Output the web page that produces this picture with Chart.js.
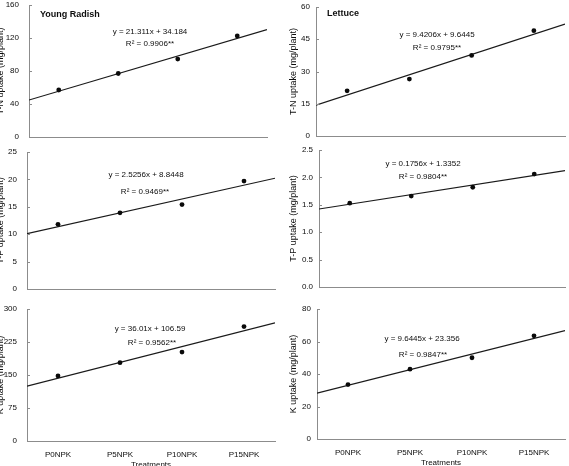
<!DOCTYPE html>
<html>
<head>
<meta charset="utf-8">
<script src="https://cdn.jsdelivr.net/npm/chart.js@4/dist/chart.umd.min.js"></script>
<style>
body { margin: 0; background: #fff; }
#wrap { position: relative; width: 569px; height: 466px; overflow: hidden; background: #fff; }
#wrap canvas { position: absolute; left: 0; top: 0; }
</style>
</head>
<body>
<div id="wrap"></div>
<script>
var treatments = ['P0NPK', 'P5NPK', 'P10NPK', 'P15NPK']

// measured uptake per treatment
var radishN = [57, 77, 94.5, 122.5]
var lettuceN = [21, 26.5, 37.5, 49]
var radishP = [11.8, 13.9, 15.4, 19.7]
var lettuceP = [1.53, 1.66, 1.82, 2.06]
var radishK = [148, 178, 202, 260]
var lettuceK = [33.5, 43, 50, 63.5]

// regression lines printed on the figure
var slopes = [21.311, 9.4206, 2.5256, 0.1756, 36.01, 9.6445]
var intercepts = [34.184, 9.6445, 8.8448, 1.3352, 106.59, 23.356]
var eqTexts = ['y = 21.311x + 34.184', 'y = 9.4206x + 9.6445', 'y = 2.5256x + 8.8448',
               'y = 0.1756x + 1.3352', 'y = 36.01x + 106.59', 'y = 9.6445x + 23.356']
var r2Texts = ['R² = 0.9906**', 'R² = 0.9795**', 'R² = 0.9469**',
               'R² = 0.9804**', 'R² = 0.9562**', 'R² = 0.9847**']

var yMaxes = [160, 60, 25, 2.5, 300, 80]
var ySteps = [40, 15, 5, 0.5, 75, 20]
var yTitles = ['T-N uptake (mg/plant)', 'T-N uptake (mg/plant)', 'T-P uptake (mg/plant)',
               'T-P uptake (mg/plant)', 'K uptake (mg/plant)', 'K uptake (mg/plant)']
var cropNames = ['Young Radish', 'Lettuce']

var FONT = '"Liberation Sans", Arial, sans-serif'
var INK = '#0d0d0d'
var AXIS = '#8c8c8c'
var W = 569, H = 466

// layout of each panel: plot box [left, top, right, bottom], title centre x, text spots
var panels = [
  { values: radishN, box: [29, 5, 267, 137], titleX: 0.5, gap: 10, dec: 0, eq: [150, 32], r2: [150, 44], crop: [40, 15] },
  { values: lettuceN, box: [316, 7, 566, 136], titleX: 294, gap: 6, dec: 0, eq: [437, 35], r2: [437, 48], crop: [327, 14] },
  { values: radishP, box: [27, 152, 275, 289], titleX: 0.5, gap: 10, dec: 0, eq: [146, 175], r2: [145, 192] },
  { values: lettuceP, box: [319, 150, 566, 287], titleX: 294, gap: 6, dec: 1, eq: [423, 164], r2: [423, 177] },
  { values: radishK, box: [27, 309, 275, 441], titleX: 0.5, gap: 10, dec: 0, eq: [150, 329], r2: [152, 343], bottom: true },
  { values: lettuceK, box: [317, 309, 566, 439], titleX: 294, gap: 6, dec: 0, eq: [422, 339], r2: [423, 355], bottom: true }
]

function makeExtras(p, i) {
  return {
    id: 'extras' + i,
    afterDraw: function (chart) {
      var ctx = chart.ctx
      var ys = chart.scales.y
      var left = chart.chartArea.left
      ctx.save()
      ctx.strokeStyle = AXIS
      ctx.lineWidth = 1
      ys.ticks.forEach(function (t) {
        var py = Math.round(ys.getPixelForValue(t.value)) + 0.5
        ctx.beginPath()
        ctx.moveTo(left, py)
        ctx.lineTo(left + 3, py)
        ctx.stroke()
      })
      ctx.fillStyle = INK
      ctx.textBaseline = 'middle'
      ctx.textAlign = 'center'
      ctx.font = '8px ' + FONT
      ctx.fillText(eqTexts[i], p.eq[0], p.eq[1])
      ctx.fillText(r2Texts[i], p.r2[0], p.r2[1])
      if (p.crop) {
        ctx.textAlign = 'left'
        ctx.font = 'bold 9px ' + FONT
        ctx.fillText(cropNames[i], p.crop[0], p.crop[1])
      }
      ctx.restore()
    }
  }
}

function showPanel(p, i) {
  var canvas = document.createElement('canvas')
  canvas.width = W
  canvas.height = H
  document.getElementById('wrap').appendChild(canvas)

  var titleHalf = 9 * 1.2 / 2
  var yWidth = p.box[0] - (p.titleX - titleHalf)
  var xHeight = p.bottom ? 29 : 0
  var a = slopes[i], b = intercepts[i]

  new Chart(canvas, {
    type: 'scatter',
    data: {
      datasets: [{
        type: 'scatter',
        data: p.values.map(function (v, k) { return { x: k + 1, y: v } }),
        pointRadius: 2.4,
        pointBackgroundColor: '#0a0a0a',
        pointBorderWidth: 0
      }, {
        type: 'line',
        data: [{ x: 0.5, y: a * 0.5 + b }, { x: 4.5, y: a * 4.5 + b }],
        borderColor: '#1a1a1a',
        borderWidth: 1.2,
        pointRadius: 0,
        fill: false
      }]
    },
    options: {
      responsive: false,
      animation: false,
      events: [],
      layout: {
        padding: {
          left: p.box[0] - yWidth,
          top: p.box[1],
          right: W - p.box[2],
          bottom: H - p.box[3] - xHeight
        }
      },
      scales: {
        x: {
          type: 'linear',
          min: 0.5,
          max: 4.5,
          afterBuildTicks: function (s) {
            s.ticks = [1, 2, 3, 4].map(function (v) { return { value: v } })
          },
          afterFit: function (s) { s.height = xHeight },
          grid: { drawOnChartArea: false, drawTicks: false },
          border: { color: AXIS, width: 1 },
          ticks: {
            display: !!p.bottom,
            padding: 9,
            autoSkip: false,
            maxRotation: 0,
            color: INK,
            font: { family: FONT, size: 8 },
            callback: function (v) { return treatments[v - 1] }
          },
          title: {
            display: !!p.bottom,
            text: 'Treatments',
            padding: 0,
            color: INK,
            font: { family: FONT, size: 8 }
          }
        },
        y: {
          min: 0,
          max: yMaxes[i],
          afterBuildTicks: function (s) {
            var t = []
            for (var k = 0; k <= Math.round(yMaxes[i] / ySteps[i]); k++) t.push({ value: k * ySteps[i] })
            s.ticks = t
          },
          afterFit: function (s) { s.width = yWidth },
          // invisible tick marks give the gap between labels and axis
          grid: { drawOnChartArea: false, drawTicks: true, tickLength: p.gap, tickColor: 'rgba(0,0,0,0)' },
          border: { color: AXIS, width: 1 },
          ticks: {
            padding: 0,
            color: INK,
            font: { family: FONT, size: 8 },
            callback: function (v) { return Number(v).toFixed(p.dec) }
          },
          title: {
            display: true,
            text: yTitles[i],
            padding: 0,
            color: INK,
            font: { family: FONT, size: 9 }
          }
        }
      },
      plugins: {
        legend: { display: false },
        tooltip: { enabled: false }
      }
    },
    plugins: [makeExtras(p, i)]
  })
}

document.addEventListener('DOMContentLoaded', function () {
  panels.forEach(showPanel)
})
</script>
</body>
</html>
